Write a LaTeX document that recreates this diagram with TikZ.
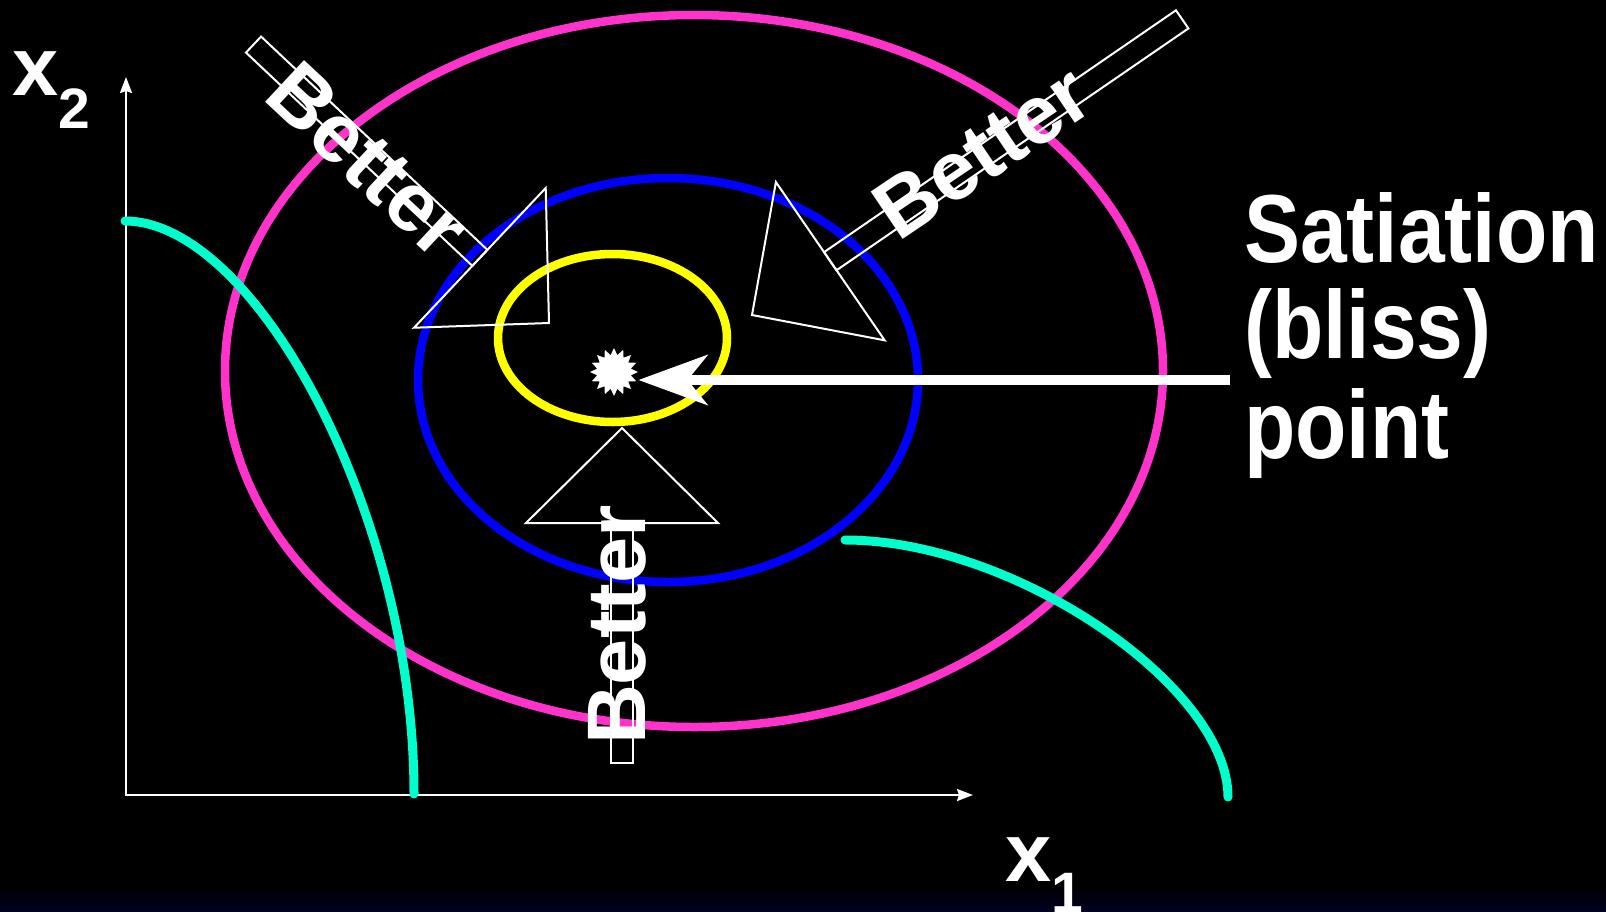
\documentclass[tikz,border=0pt]{standalone}
\usepackage{fontspec}
\setmainfont{Liberation Sans}
\usepackage{tikz}
\usetikzlibrary{arrows.meta,shapes.geometric,calc}

\definecolor{ringpink}{RGB}{255,51,204}
\definecolor{ringblue}{RGB}{0,0,255}
\definecolor{ringyellow}{RGB}{255,255,0}
\definecolor{curvecyan}{RGB}{0,255,204}
\definecolor{stripnavy}{RGB}{0,0,34}

% block arrow: tip, direction, shaft length
\newcommand{\betterarrow}[3]{%
  \begin{scope}[shift={#1}, rotate=#2]
    \draw[outline] (0,0) -- (-95,96) -- (-95,-96) -- cycle;
    \draw[outline] (-95,11) rectangle (-95-#3,-11);
  \end{scope}}

\begin{document}
\begin{tikzpicture}[x=1pt, y=-1pt,
  ring/.style={line width=8.5pt},
  indiff/.style={curvecyan, line width=9pt, line cap=round},
  outline/.style={white, line width=2pt, line join=miter},
  axis/.style={white, line width=2pt,
    {Stealth[length=16pt,width=12pt,inset=2pt]}-{Stealth[length=16pt,width=12pt,inset=2pt]}},
  bettertext/.style={text=white, inner sep=0pt, font=\fontsize{83}{83}\selectfont\bfseries},
  blisstext/.style={text=white, inner sep=0pt, anchor=base west, font=\fontsize{84}{84}\selectfont\bfseries},
  axislabel/.style={text=white, inner sep=0pt, anchor=base west, font=\fontsize{83}{83}\selectfont\bfseries},
  blissarrow/.style={white, line width=10pt, -{Stealth[length=69pt,width=50pt,inset=20pt]}}]
  \useasboundingbox (0,0) rectangle (1606,911);
  \fill[black] (0,0) rectangle (1606,911);
  \shade[top color=black, bottom color=stripnavy] (0,886) rectangle (1606,911);

  % Define nodes
  \coordinate (origin) at (126,795);
  \coordinate (ytip) at (126,77);
  \coordinate (xtip) at (973,795);
  \coordinate (arrowstart) at (1230,380);
  \node[star, star points=16, star point ratio=1.4, fill=white, inner sep=0pt,
    minimum size=48pt] (bliss) at (614,372) {};
  \node[axislabel] (x2) at (12,95) {x\raisebox{-33pt}{\fontsize{57}{57}\selectfont 2}};
  \node[axislabel] (x1) at (1005,881) {x\raisebox{-31pt}{\fontsize{57}{57}\selectfont 1}};
  \node[blisstext] (sat1) at (1244,262) {\scalebox{1}[1.15]{Satiation}};
  \node[blisstext] (sat2) at (1244,358) {\scalebox{1}[1.15]{(bliss)}};
  \node[blisstext] (sat3) at (1244,458) {\scalebox{1}[1.15]{point}};

  % Axes
  \draw[axis] (ytip) -- (origin) -- (xtip);

  % Indifference rings
  \draw[ring, ringpink] (694,371) ellipse [x radius=469, y radius=356];
  \draw[ring, ringblue] (668,380) ellipse [x radius=250, y radius=202];
  \draw[ring, ringyellow] (612.5,338) ellipse [x radius=114.5, y radius=84];

  % Budget curves
  \draw[indiff] (125,221) .. controls +(130,0) and +(0,-280) .. (414,794);
  \draw[indiff] (845,540) .. controls +(170,0) and +(0,-110) .. (1228,797);

  % Better arrows
  \betterarrow{(622,428)}{90}{240}
  \betterarrow{(549,323)}{-43.3}{311}
  \betterarrow{(752,315)}{-145.5}{427}
  \node[bettertext, rotate=90] (better1) at (617,625) {Better};
  \node[bettertext, rotate=-43] (better2) at (368,160) {Better};
  \node[bettertext, rotate=34] (better3) at (982,152) {Better};

  % Draw arrows
  \draw[blissarrow] (arrowstart) -- (arrowstart -| bliss.east);
\end{tikzpicture}
\end{document}
